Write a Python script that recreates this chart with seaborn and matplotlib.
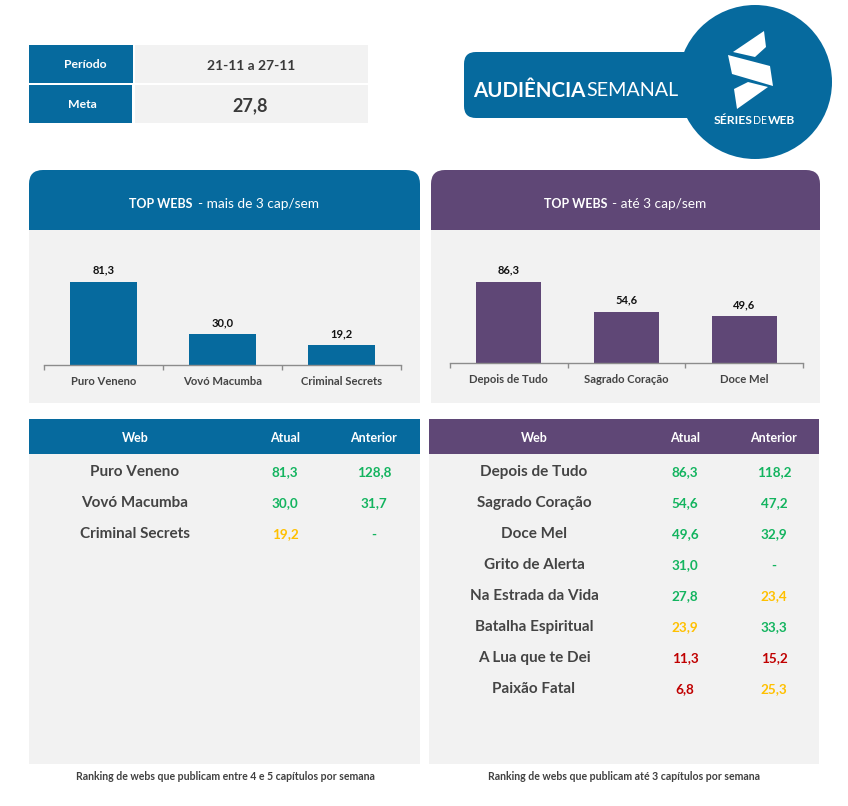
import matplotlib
matplotlib.use("Agg")
import matplotlib.pyplot as plt
from matplotlib.patches import FancyBboxPatch, Rectangle, Circle, Polygon
import seaborn as sns
import pandas as pd

sns.set_theme(style="white")
plt.rcParams['font.family'] = ['Lato', 'DejaVu Sans']

BLUE = "#066A9E"
PURPLE = "#5F4776"
GRAY = "#F2F2F2"
GREEN, YELLOW, RED = "#13B45F", "#FFC000", "#C00000"

period_label, period_value = "Período", "21-11 a 27-11"
goal_label, goal_value = "Meta", 27.8

left_names = ["Puro Veneno", "Vovó Macumba", "Criminal Secrets"]
left_now = [81.3, 30.0, 19.2]
left_prev = [128.8, 31.7, None]

right_names = ["Depois de Tudo", "Sagrado Coração", "Doce Mel", "Grito de Alerta",
               "Na Estrada da Vida", "Batalha Espiritual", "A Lua que te Dei", "Paixão Fatal"]
right_now = [86.3, 54.6, 49.6, 31.0, 27.8, 23.9, 11.3, 6.8]
right_prev = [118.2, 47.2, 32.9, None, 23.4, 33.3, 15.2, 25.3]

W, H = 848, 806
fig = plt.figure(figsize=(W / 100, H / 100), dpi=100, facecolor="white")
bg = fig.add_axes([0, 0, 1, 1], zorder=0)
bg.set_xlim(0, W)
bg.set_ylim(H, 0)
bg.axis("off")


def fmt(v):
    return "-" if v is None else f"{v:.1f}".replace(".", ",")


def tone(v):
    if v is None or v >= goal_value:
        return GREEN
    return YELLOW if v >= 19 else RED


def rect(x0, y0, x1, y1, color):
    bg.add_patch(Rectangle((x0, y0), x1 - x0, y1 - y0, fc=color, ec="none"))


def txt(x, y, s, size=10, color="#404040", weight="normal", ha="center", **kw):
    return bg.text(x, y, s, fontsize=size, color=color, fontweight=weight,
                   ha=ha, va="center", **kw)


# top info table
for y0, y1, lab, val, sz, lx, vx, bx in [(45, 83, period_label, period_value, 10, 85.5, 251, 133),
                                         (85, 123, goal_label, fmt(goal_value), 13, 82, 250, 132)]:
    rect(29, y0, bx, y1, BLUE)
    rect(135, y0, 368, y1, GRAY)
    txt(lx, (y0 + y1) / 2 + 1, lab, 8.8, "white", "bold")
    txt(vx, (y0 + y1) / 2 + 2, val, sz, "#3A3A3A", "bold")

# logo
bg.add_patch(FancyBboxPatch((476, 64), 240, 42, boxstyle="round,pad=12,rounding_size=12",
                            fc=BLUE, ec="none"))
bg.add_patch(Circle((755, 82), 77, fc=BLUE, ec="none"))
txt(473.5, 91, "AUDIÊNCIA", 14.8, "white", "bold", ha="left")
txt(586, 91, "SEMANAL", 14.2, "white", "normal", ha="left")
for pts in ([(764, 31), (766, 47), (755, 57), (733, 52)],
            [(728, 55), (770, 66), (773, 86), (732, 74)],
            [(734, 89), (748, 82), (768, 87), (737, 109)]):
    bg.add_patch(Polygon(pts, closed=True, fc="white", ec="none"))
txt(752.5, 120, "SÉRIES", 8.8, "white", "bold", ha="right")
txt(753, 120, "DE", 7.6, "white", "normal", ha="left")
txt(767.5, 120, "WEB", 8.6, "white", "bold", ha="left")


def panel(x0, x1, color, title_b, title_r, tx, names, now, prev,
          axx0, axx1, base, top_val, top_y, ylim_top,
          tx0, tx1, web_x, now_x, prev_x, foot, foot_x):
    # chart panel
    bg.add_patch(FancyBboxPatch((x0 + 14, 184), x1 - x0 - 28, 60,
                                boxstyle="round,pad=14,rounding_size=14", fc=color, ec="none"))
    rect(x0, 230, x1, 403, GRAY)
    txt(tx, 204.5, title_b, 9, "white", "bold", ha="right")
    txt(tx + 5, 204.5, title_r, 9.8, "white", "normal", ha="left")

    # bar chart
    px = base - top_y
    height_px = px / top_val * ylim_top
    ax = fig.add_axes([axx0 / W, 1 - base / H, (axx1 - axx0) / W, height_px / H], zorder=2)
    df = pd.DataFrame({"web": names[:3], "val": now[:3]})
    sns.barplot(data=df, x="web", y="val", color=color, saturation=1, width=0.555,
                linewidth=0, ax=ax)
    ax.set_xlim(-0.5, 2.5)
    ax.set_ylim(0, ylim_top)
    ax.patch.set_alpha(0)
    ax.set_xlabel("")
    ax.set_ylabel("")
    ax.set_yticks([])
    for s in ("top", "left", "right"):
        ax.spines[s].set_visible(False)
    ax.spines["bottom"].set_color("#8C8C8C")
    ax.spines["bottom"].set_linewidth(1)
    ax.set_xticks([-0.5, 0.5, 1.5, 2.5], minor=True)
    ax.tick_params(axis="x", which="minor", length=3.5, color="#8C8C8C", width=1, bottom=True)
    ax.tick_params(axis="x", which="major", length=0, pad=8, labelsize=8.1, labelcolor="#444444")
    for lab in ax.get_xticklabels():
        lab.set_fontweight("bold")
    ax.bar_label(ax.containers[0], labels=[fmt(v) for v in now[:3]], padding=4.5,
                 fontsize=8, fontweight="bold", color="#111111")

    # table
    rect(tx0, 419, tx1, 454, color)
    rect(tx0, 454, tx1, 764, GRAY)
    for x, s in [(web_x, "Web"), (now_x, "Atual"), (prev_x, "Anterior")]:
        txt(x, 438, s, 9, "white", "bold")
    for i, n in enumerate(names):
        y = 472 + 31 * i
        txt(web_x, y, n, 11, "#444444", "bold")
        txt(now_x, y + 0.5, fmt(now[i]), 9.7, tone(now[i]), "bold")
        txt(prev_x, y + 0.5, fmt(prev[i]), 9.7, tone(prev[i]), "bold")
    txt(foot_x, 776, foot, 7.6, "#404040", "bold")


panel(29, 420, BLUE, "TOP WEBS", "- mais de 3 cap/sem", 192.5, left_names, left_now, left_prev,
      44, 401, 365, 81.3, 282, 100,
      29, 420, 135, 285, 374,
      "Ranking de webs que publicam entre 4 e 5 capítulos por semana", 225)
panel(431, 820, PURPLE, "TOP WEBS", "- até 3 cap/sem", 607, right_names, right_now, right_prev,
      450, 803, 363, 86.3, 282, 100,
      429, 819, 534, 685, 774,
      "Ranking de webs que publicam até 3 capítulos por semana", 624)

fig.savefig("out.png", dpi=100, facecolor="white")
